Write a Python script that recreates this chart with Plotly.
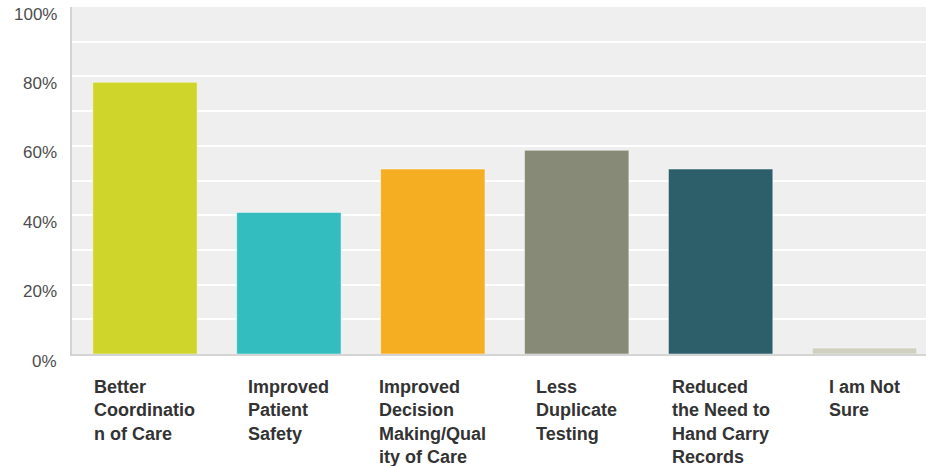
import plotly.graph_objects as go

categories = [
    "Better<br>Coordinatio<br>n of Care",
    "Improved<br>Patient<br>Safety",
    "Improved<br>Decision<br>Making/Qual<br>ity of Care",
    "Less<br>Duplicate<br>Testing",
    "Reduced<br>the Need to<br>Hand Carry<br>Records",
    "I am Not<br>Sure",
]
values = [78.3, 40.8, 53.3, 58.7, 53.3, 1.7]
colors = ["#cfd52b", "#33bdbf", "#f5ae21", "#888a78", "#2d5f6b", "#d0d0c0"]
tick_vals = [0, 20, 40, 60, 80, 100]
tick_text = ["0%", "20%", "40%", "60%", "80%", "100%"]

x_idx = list(range(len(categories)))

fig = go.Figure()
fig.add_trace(go.Bar(
    x=x_idx, y=values,
    marker=dict(color=colors, line=dict(color="rgba(255,255,255,0.45)", width=1)),
    width=0.725,
    hoverinfo="y",
))

# category labels: centred block, left-aligned lines
for i, lab in enumerate(categories):
    fig.add_annotation(
        x=i, y=0, xref="x", yref="paper",
        text=lab, showarrow=False,
        xanchor="center", yanchor="top", align="left",
        yshift=-21,
        font=dict(family="Liberation Sans, Arial", size=18, color="#333333", weight="bold"),
    )

# y tick labels sit a little below their gridline in the original
for v, t in zip(tick_vals, tick_text):
    fig.add_annotation(
        x=0, y=v, xref="paper", yref="y",
        text=t, showarrow=False,
        xanchor="right", yanchor="middle",
        xshift=-13, yshift=-7,
        font=dict(family="Liberation Sans, Arial", size=17, color="#4d4d4d"),
    )

fig.update_layout(
    width=927, height=466,
    margin=dict(l=72, r=1, t=7, b=112),
    paper_bgcolor="white",
    plot_bgcolor="#efefef",
    showlegend=False,
)
fig.update_xaxes(
    range=[-0.507, 5.427],
    showticklabels=False, showgrid=False, zeroline=False,
    showline=True, linecolor="#d4d4d4", linewidth=2,
    ticks="", automargin=False,
)
fig.update_yaxes(
    range=[0, 100],
    tickvals=tick_vals, showticklabels=False,
    showgrid=True, gridcolor="white", gridwidth=2,
    minor=dict(dtick=10, showgrid=True, gridcolor="white", gridwidth=2),
    zeroline=False,
    showline=True, linecolor="#d4d4d4", linewidth=2,
    ticks="", automargin=False,
)

# drop the browser's default page margin so the figure sits at 0,0
fig.write_html("out.html", config={"displayModeBar": False},
               post_script="document.body.style.margin='0';")
